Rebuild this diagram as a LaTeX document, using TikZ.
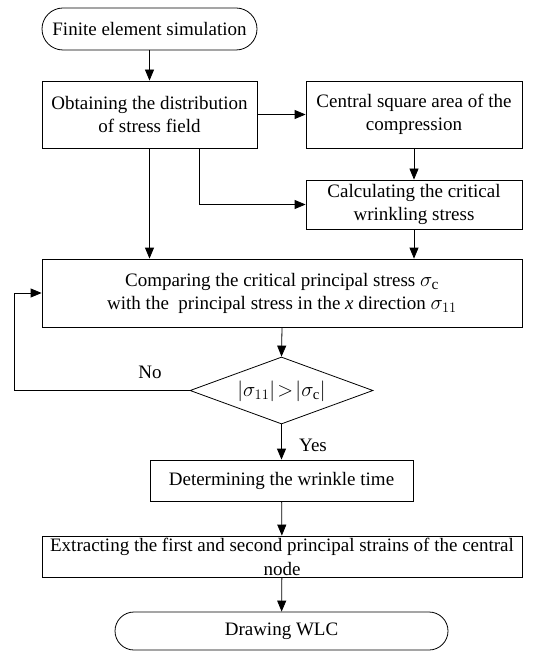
\documentclass[tikz,border=0pt]{standalone}
\usepackage{fontspec}
\setmainfont{Liberation Serif}
\usetikzlibrary{arrows.meta,shapes.geometric,calc}
\tikzset{
  base/.style={draw, line width=0.8pt, inner sep=0pt, align=center, font=\fontsize{19}{23}\selectfont},
  proc/.style={base, rectangle},
  term/.style={base, rectangle, rounded corners=#1},
  dec/.style={base, diamond},
  arr/.style={line width=0.8pt, -{Triangle[length=11pt,width=9pt]}},
  lbl/.style={font=\fontsize{19}{23}\selectfont, inner sep=0pt, align=center}
}
\begin{document}
\begin{tikzpicture}[x=1pt,y=-1pt]
\useasboundingbox (0,0) rectangle (536,652);
\node[term=21pt, minimum width=215pt, minimum height=42pt] (start) at (149.5,29) {Finite element simulation};
\node[proc, minimum width=215pt, minimum height=67pt] (obtain) at (149.5,114.5) {Obtaining the distribution\\of stress field};
\node[proc, minimum width=216pt, minimum height=67pt] (central) at (414,114.5) {Central square area of the\\compression};
\node[proc, minimum width=216pt, minimum height=49pt] (calc) at (414,204.5) {Calculating the critical\\wrinkling stress};
\node[proc, minimum width=480pt, minimum height=68pt] (comp) at (282,293) {Comparing the critical principal stress {\fontsize{22}{23}\selectfont$\sigma_{\mathrm{c}}$}\\with the \ principal stress in the \textit{x} direction {\fontsize{22}{23}\selectfont$\sigma_{11}$}};
\node[dec, minimum width=183pt, minimum height=67pt] (dec) at (281.5,390.5) {};
\node[lbl] (dectext) at (281.5,391.5) {{\fontsize{21}{23}\selectfont$\bigl|\sigma_{11}\bigr|\!>\!\bigl|\sigma_{\mathrm{c}}\bigr|$}};
\node[proc, minimum width=263pt, minimum height=41pt] (det) at (281.5,480.5) {Determining the wrinkle time};
\node[proc, minimum width=480pt, minimum height=41pt] (extr) at (282,556.5) {};
\node[lbl, font=\fontsize{19}{24}\selectfont] (extrtext) at (282,557) {Extracting the first and second principal strains of the central\\node};
\node[term=19pt, minimum width=333pt, minimum height=38pt] (end) at (281.5,631) {Drawing WLC};
\node[lbl] (no) at (150,372) {No};
\node[lbl] (yes) at (313,445) {Yes};
\coordinate (bx) at (199,0);
\coordinate (lx) at (14,0);
\draw[arr] (start) -- (obtain);
\draw[arr] (obtain) -- (central);
\draw[arr] (obtain.south -| bx) |- (calc.west);
\draw[arr] (obtain.south) -- (obtain.south |- comp.north);
\draw[arr] (central) -- (calc);
\draw[arr] (calc.south) -- (calc.south |- comp.north);
\draw[arr] (comp.south) -- (dec.north);
\draw[arr] (dec.west) -- (dec.west -| lx) |- (comp.west);
\draw[arr] (dec.south) -- (det.north);
\draw[arr] (det) -- (extr);
\draw[arr] (extr) -- (end);
\end{tikzpicture}
\end{document}
